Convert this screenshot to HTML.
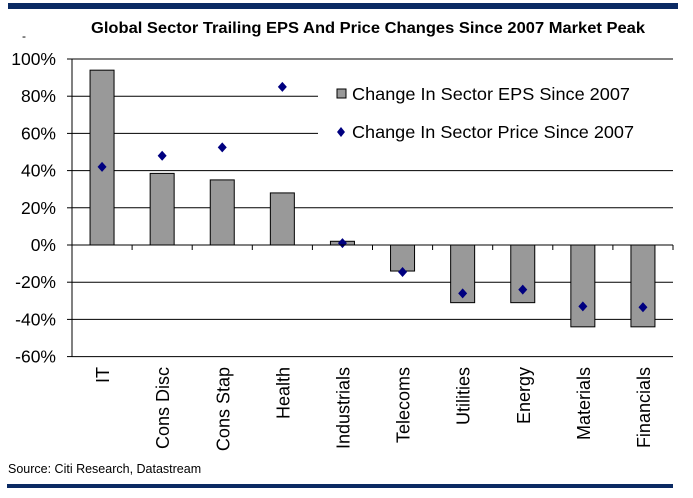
<!DOCTYPE html>
<html><head><meta charset="utf-8"><style>
body{margin:0;background:#fff;}
svg{display:block;font-family:"Liberation Sans",Arial,sans-serif;}
</style></head><body>
<svg id="c" width="693" height="498" viewBox="0 0 693 498">
<rect x="8" y="3" width="670" height="6" fill="#0b2a63"/>
<text x="91" y="33" font-size="15.5" font-weight="bold" textLength="554" lengthAdjust="spacingAndGlyphs">Global Sector Trailing EPS And Price Changes Since 2007 Market Peak</text>
<text x="22" y="40" font-size="12">-</text>
<g id="grid"></g>
<g id="bars"></g>
<g id="pts"></g>
<g id="axes"></g>
<g>
<rect x="318" y="72" width="355" height="75" fill="#fff"/>
<rect x="337" y="89" width="9" height="9" fill="#999" stroke="#000" stroke-width="1"/>
<text x="352" y="100" font-size="17.5" textLength="278" lengthAdjust="spacingAndGlyphs">Change In Sector EPS Since 2007</text>
<polygon points="341,127 345,132 341,137 337,132" fill="#000080"/>
<text x="352" y="138" font-size="17.5" textLength="282" lengthAdjust="spacingAndGlyphs">Change In Sector Price Since 2007</text>
</g>
<text x="8" y="473" font-size="12.5">Source: Citi Research, Datastream</text>
<rect x="7" y="484" width="666" height="4" fill="#0b2a63"/>
</svg>
<script>
const categories=["IT","Cons Disc","Cons Stap","Health","Industrials","Telecoms","Utilities","Energy","Materials","Financials"];
const epsChange=[94,38.5,35,28,2,-14,-31,-31,-44,-44];
const priceChange=[42,48,52.5,85,1,-14.5,-26,-24,-33,-33.5];
const yTicks=[100,80,60,40,20,0,-20,-40,-60];
const NS="http://www.w3.org/2000/svg";
const L=72,R=673,T=59,B=356.6,yMax=100,yMin=-60;
const y=v=>T+(yMax-v)/(yMax-yMin)*(B-T);
const step=(R-L)/categories.length;
const x=i=>L+step*(i+0.5);
function mk(tag,attrs,parent){const e=document.createElementNS(NS,tag);for(const k in attrs)e.setAttribute(k,attrs[k]);document.getElementById(parent).appendChild(e);return e;}
yTicks.forEach(t=>{
  const g=mk("line",{x1:L,x2:R,y1:y(t),y2:y(t),stroke:"#000","stroke-width":1},"grid");
  
  
  const tl=mk("line",{x1:L-5,x2:L,y1:y(t),y2:y(t),stroke:"#000"},"axes");
  
  
  const tx=mk("text",{x:L-16,y:y(t)+6,"font-size":17.5,"text-anchor":"end"},"axes");
  tx.textContent=t+"%";
  
  
});
const ax=mk("line",{x1:L,x2:L,y1:T,y2:B,stroke:"#000"},"axes");


const bw=24;
categories.forEach((c,i)=>{
  const v=epsChange[i];
  const b=mk("rect",{x:x(i)-bw/2,y:Math.min(y(v),y(0)),width:bw,height:Math.abs(y(v)-y(0)),fill:"#999",stroke:"#000","stroke-width":1},"bars");
  
  
  const px=x(i),py=y(priceChange[i]);
  const p=mk("polygon",{points:`${px},${py-5} ${px+4.5},${py} ${px},${py+5} ${px-4.5},${py}`,fill:"#000080"},"pts");
  
  
  const tk=mk("line",{x1:L+step*(i+1),x2:L+step*(i+1),y1:y(0),y2:y(0)+5,stroke:"#000"},"axes");
  
  
  const lx=x(i)+7,ly=367;
  const t=mk("text",{x:lx,y:ly,"font-size":18,"text-anchor":"end",transform:`rotate(-90 ${lx} ${ly})`},"axes");
  t.textContent=c;
  
  
});
const zl=mk("line",{x1:L,x2:R,y1:y(0),y2:y(0),stroke:"#000"},"axes");


</script>
</body></html>
